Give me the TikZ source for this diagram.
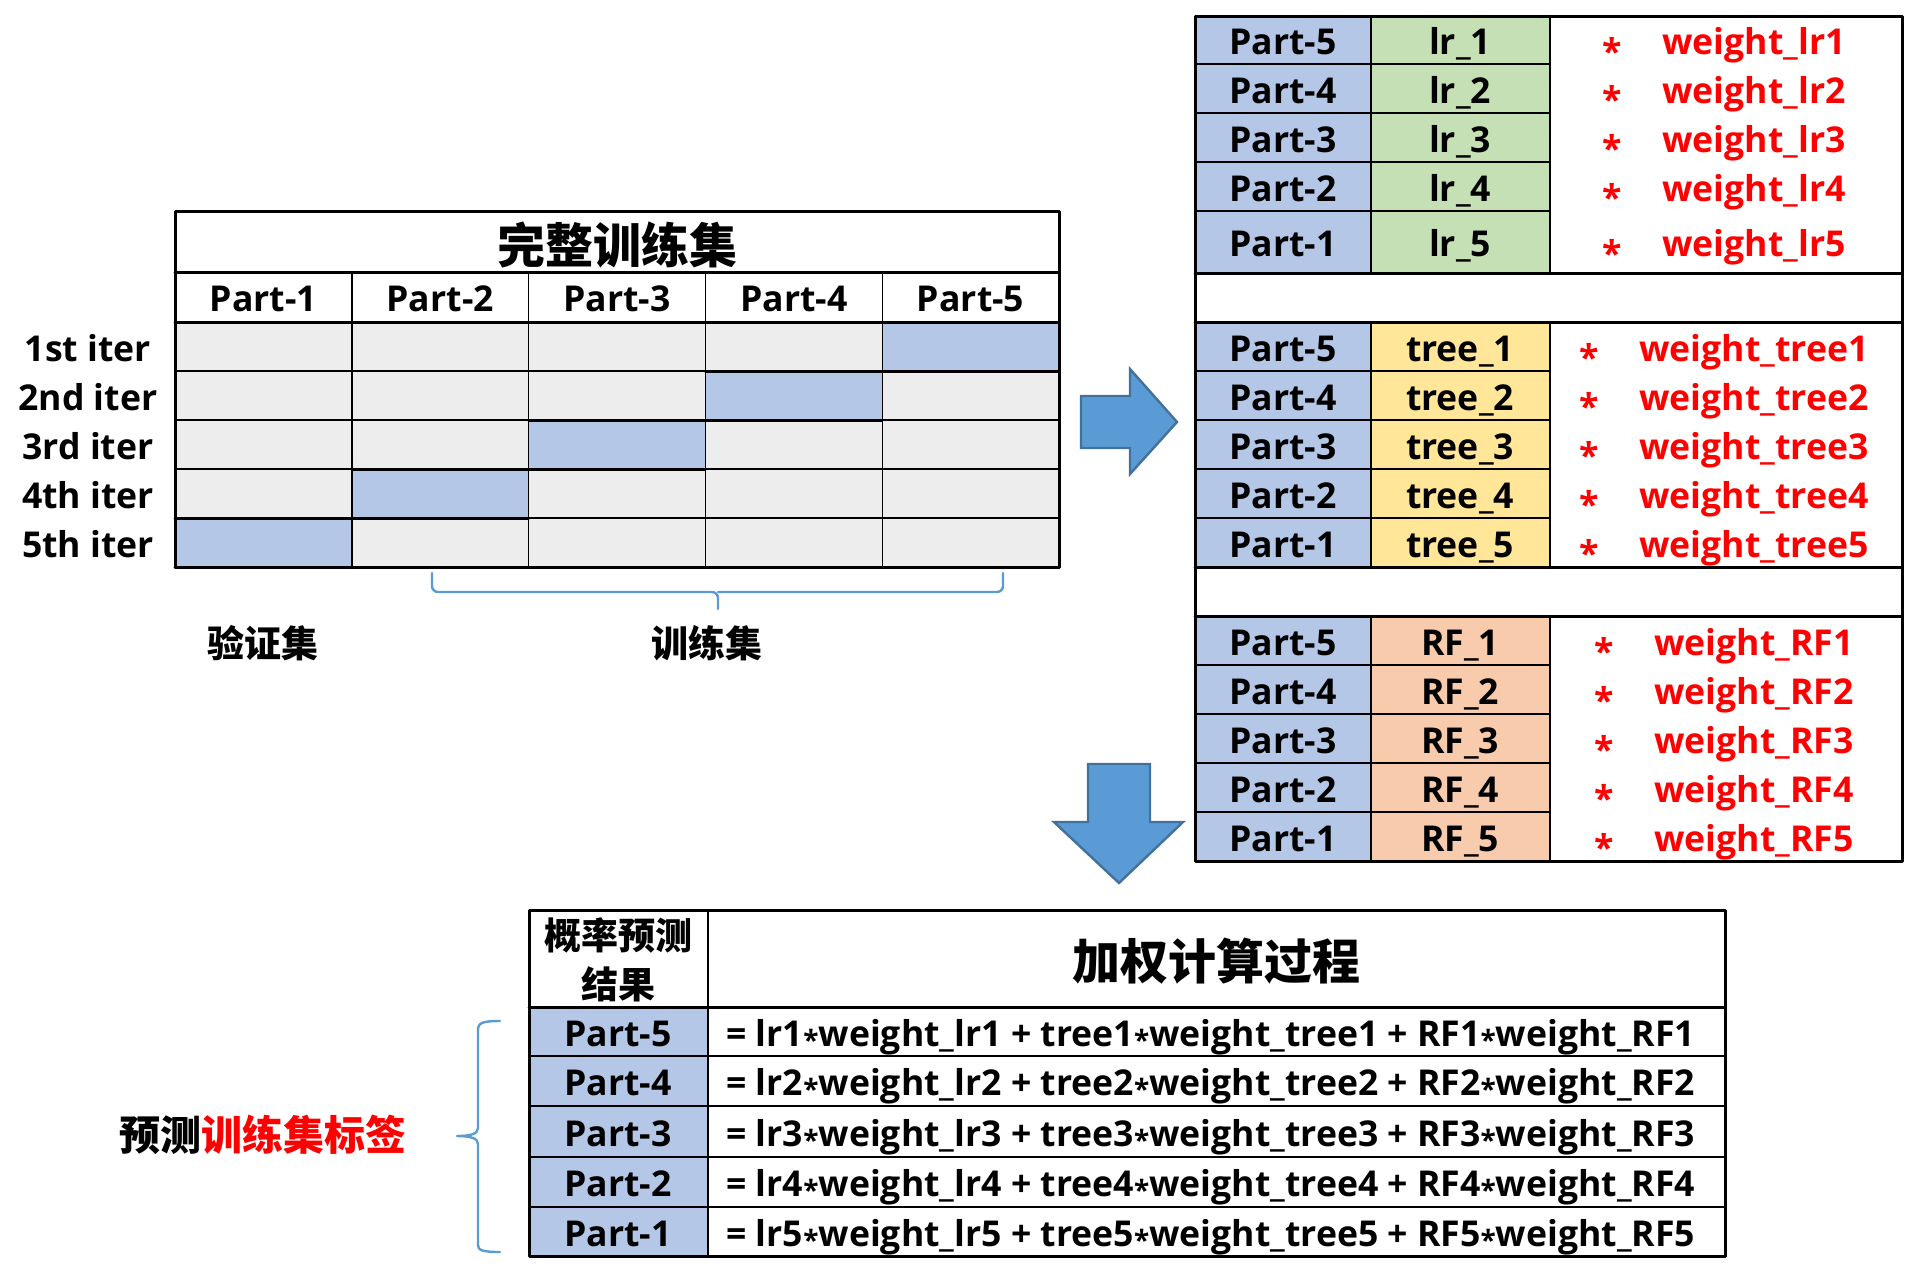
\documentclass[tikz,border=0pt]{standalone}
\usepackage{fontspec}
\setmainfont{Open Sans}
\newfontfamily\cjk{Noto Sans CJK SC}
\usetikzlibrary{positioning}
\definecolor{cellgray}{HTML}{EDEDED}
\definecolor{partblue}{HTML}{B4C7E7}
\definecolor{lrgreen}{HTML}{C5E0B4}
\definecolor{treeyellow}{HTML}{FFE699}
\definecolor{rforange}{HTML}{F8CBAD}
\definecolor{arrowfill}{HTML}{5B9BD5}
\definecolor{arrowedge}{HTML}{41719C}
\definecolor{bracecol}{HTML}{5B9BD5}
\definecolor{wred}{HTML}{FF0000}
\newcommand{\starop}{\raisebox{-0.22em}{*}}
\newcommand{\eqstar}{\raisebox{-0.12em}{\fontsize{14}{14}\selectfont *}}
\tikzset{
	txt/.style={font=\bfseries\fontsize{17.8}{21}\selectfont,inner sep=0pt,text height=12.6pt,text depth=0pt,yshift=-1pt},
	wtxt/.style={txt,text=wred},
	cntxt/.style={font=\cjk\bfseries\fontsize{18.5}{24.5}\selectfont,inner sep=0pt},
	titletxt/.style={font=\cjk\bfseries\fontsize{24}{28}\selectfont,inner sep=0pt},
	gridline/.style={line width=0.7pt},
	frame/.style={line width=1.5pt},
	blockarrow/.style={fill=arrowfill,draw=arrowedge,line width=1.2pt,line join=miter},
	bracestyle/.style={draw=bracecol,line width=1.2pt}
}
\begin{document}
\begin{tikzpicture}[x=0.5pt,y=-0.5pt,line join=round,line cap=round]
	\useasboundingbox (0,0) rectangle (1920,1276);
	\def \cw{176.8}
	\def \rh{49}
	% full training set, five iterations
	\fill[cellgray] (175,322) rectangle (1059,567);
	\foreach \i in {1,...,5}
		\fill[partblue] ({175+(5-\i)*\cw},{322+(\i-1)*\rh}) rectangle ++(\cw,\rh);
	\foreach \k in {1,...,4}{
		\draw[gridline] ({175+\k*\cw},272) -- ({175+\k*\cw},567);
		\draw[gridline] (175,{322+\k*\rh}) -- (1059,{322+\k*\rh});
	}
	\foreach \i in {1,...,5}
		\draw[frame] ({175+(5-\i)*\cw},{322+(\i-1)*\rh}) -- ++(\cw,0) ({175+(5-\i)*\cw},{322+\i*\rh}) -- ++(\cw,0);
	\draw[frame] (175,211) rectangle (1059,567) (175,272) -- (1059,272) (175,322) -- (1059,322);
	\node[titletxt] (full) at (617,245) {完整训练集};
	\foreach \j in {1,...,5}
		\node[txt] (col\j) at ({175+(\j-0.5)*\cw},297) {Part-\j};
	\foreach \i/\n in {1/1st,2/2nd,3/3rd,4/4th,5/5th}
		\node[txt] (iter\i) at (88,{322+(\i-0.5)*\rh}) {\n\ iter};
	% brace under the training parts
	\coordinate (bl) at (432,573);
	\coordinate (br) at (1003,573);
	\coordinate (bm) at (718,592);
	\coordinate (btip) at (718,609);
	\draw[bracestyle,rounded corners=3pt] (bl) |- (bm) -- (btip);
	\draw[bracestyle,rounded corners=3pt] (br) |- (bm);
	\node[cntxt] (val) at (263,643) {验证集};
	\node[cntxt] (train) at (707,643) {训练集};
	% block arrows
	\draw[blockarrow] (1081,396) -- (1130,396) -- (1130,369) -- (1177,422) -- (1130,474) -- (1130,448) -- (1081,448) -- cycle;
	\draw[blockarrow] (1088,764) -- (1150,764) -- (1150,822) -- (1183,822) -- (1119,883) -- (1054,822) -- (1088,822) -- cycle;
	% lr block
	\fill[partblue] (1195,16) rectangle (1371,273);
	\fill[lrgreen] (1371,16) rectangle (1550,273);
	\foreach \y in {64,113,162,211}
		\draw[gridline] (1195,\y) -- (1550,\y);
	\draw[gridline] (1371,16) -- (1371,273) (1550,16) -- (1550,273);
	\foreach \m/\p/\y in {1/5/40,2/4/88.5,3/3/137.5,4/2/186.5,5/1/242}{
		\node[txt] (lrp\p) at (1283,\y) {Part-\p};
		\node[txt] (lr\m) at (1460,\y) {lr\_\m};
		\node[wtxt] (wlr\m) at (1754,\y) {weight\_lr\m};
		\node[wtxt] (slr\m) at ([xshift=-25pt]wlr\m.west) {\starop};
	}
	% tree and RF blocks
	\foreach \name/\col/\top in {tree/treeyellow/322,RF/rforange/616}{
		\fill[partblue] (1195,\top) rectangle (1371,\top+245);
		\fill[\col] (1371,\top) rectangle (1550,\top+245);
		\foreach \k in {1,...,4}
			\draw[gridline] (1195,{\top+\k*\rh}) -- (1550,{\top+\k*\rh});
		\draw[gridline] (1371,\top) -- (1371,\top+245) (1550,\top) -- (1550,\top+245);
		\foreach \m/\p in {1/5,2/4,3/3,4/2,5/1}{
			\node[txt] (\name p\p) at (1283,{\top+(\m-0.5)*\rh}) {Part-\p};
			\node[txt] (\name\m) at (1460,{\top+(\m-0.5)*\rh}) {\name\_\m};
			\node[wtxt] (w\name\m) at (1754,{\top+(\m-0.5)*\rh}) {weight\_\name\m};
			\node[wtxt] (s\name\m) at ([xshift=-25pt]w\name\m.west) {\starop};
		}
	}
	\draw[frame] (1195,16) rectangle (1902,861);
	\draw[frame] (1195,273) -- (1902,273) (1195,322) -- (1902,322) (1195,567) -- (1902,567) (1195,616) -- (1902,616);
	% weighted sum table
	\fill[partblue] (529,1007) rectangle (708,1256);
	\foreach \y in {1056,1106,1157,1207}
		\draw[gridline] (529,\y) -- (1725,\y);
	\draw[gridline] (708,910) -- (708,1256);
	\draw[frame] (529,910) rectangle (1725,1256) (529,1007) -- (1725,1007);
	\node[cntxt,align=center] (probhd) at (618,960) {概率预测\\结果};
	\node[titletxt] (calchd) at (1216,961) {加权计算过程};
	\foreach \p/\m/\y in {5/1/1031.5,4/2/1081,3/3/1131.5,2/4/1182,1/5/1231.5}{
		\node[txt] (bp\p) at (618,\y) {Part-\p};
		\node[txt,anchor=west] (eq\m) at (726,\y) {= lr\m\eqstar weight\_lr\m\ + tree\m\eqstar weight\_tree\m\ + RF\m\eqstar weight\_RF\m};
	}
	% brace for the predicted labels
	\coordinate (lbtop) at (500,1021);
	\coordinate (lbtip) at (457,1136);
	\coordinate (lbbot) at (500,1252);
	\draw[bracestyle] (lbtop) .. controls (482,1021) and (478,1023) .. (478,1030) -- (478,1128) .. controls (478,1134) and (470,1136) .. (lbtip) .. controls (470,1136) and (478,1138) .. (478,1144) -- (478,1245) .. controls (478,1250) and (482,1252) .. (lbbot);
	\node[cntxt,font=\cjk\bfseries\fontsize{20.5}{24}\selectfont] (predlbl) at (263,1135) {预测\textcolor{wred}{训练集标签}};
\end{tikzpicture}
\end{document}
